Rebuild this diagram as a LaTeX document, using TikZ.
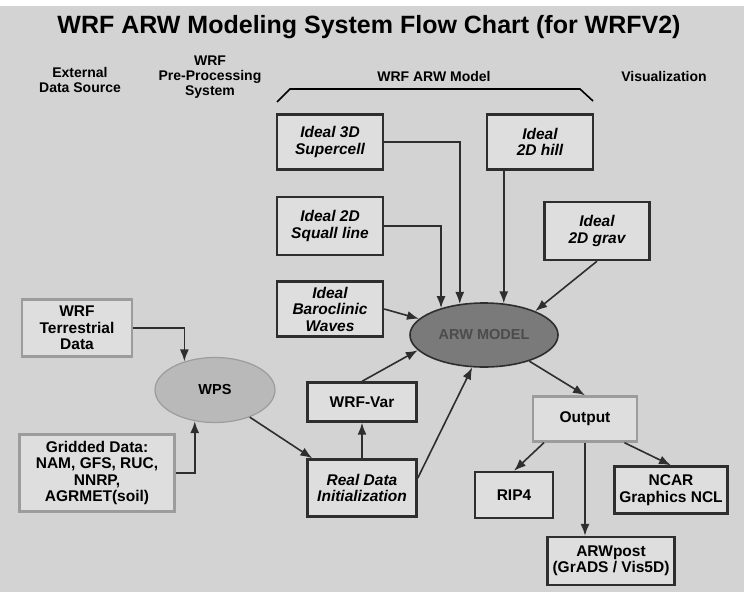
\documentclass[tikz,border=0pt]{standalone}
\usepackage{fontspec}
\setmainfont{Liberation Sans}
\usepackage{xcolor}
\usetikzlibrary{shapes.geometric,arrows.meta}

\definecolor{page}{HTML}{D3D3D3}
\definecolor{boxfill}{HTML}{DEDEDE}
\definecolor{boxline}{HTML}{2E2E2E}
\definecolor{paleline}{HTML}{9C9C9C}
\definecolor{arwfill}{HTML}{7A7A7A}
\definecolor{wpsfill}{HTML}{B9B9B9}

\begin{document}
\begin{tikzpicture}[x=1pt, y=-1pt,
    >={Latex[length=12pt,width=9pt]},
    box/.style={shape=rectangle, draw=boxline, line width=2.4pt, fill=boxfill, inner sep=1pt, align=center,
      font=\fontsize{15.5}{16.5}\selectfont\bfseries},
    ideal/.style={box, font=\fontsize{15.5}{16.5}\selectfont\bfseries\itshape},
    pale/.style={box, draw=paleline},
    oval/.style={shape=ellipse, inner sep=1pt, font=\fontsize{14.5}{15}\selectfont\bfseries},
    head/.style={align=center, font=\fontsize{14}{15}\selectfont\bfseries},
    arr/.style={->, line width=1.6pt, draw=boxline}]
    \fill[white] (0,0) rectangle (744,592);
    \fill[page] (0,6) rectangle (744,592);

    \node (title) at (369,33) [anchor=base, font=\fontsize{25}{27}\selectfont\bfseries] {WRF ARW Modeling System Flow Chart (for WRFV2)};
    \node (ext) at (80,80) [head] {External\\Data Source};
    \node (pre) at (210,77) [head] {WRF\\Pre-Processing\\System};
    \node (model) at (434,76) [head] {WRF ARW Model};
    \node (vis) at (664,76) [head] {Visualization};
    \draw[line width=1.6pt] (277,102) -- (290,89) -- (580,89) -- (593,101);

    \node (sup) at (330,142) [ideal, minimum width=106, minimum height=55] {Ideal 3D\\Supercell};
    \node (hill) at (540,142) [ideal, minimum width=106, minimum height=55] {Ideal\\2D hill};
    \node (sql) at (330,226) [ideal, minimum width=106, minimum height=58] {Ideal 2D\\Squall line};
    \node (grav) at (597,231) [ideal, minimum width=105, minimum height=58] {Ideal\\2D grav};
    \node (baro) at (330,309) [ideal, minimum width=106, minimum height=55] {Ideal\\Baroclinic\\Waves};
    \node (arw) at (484,335) [oval, draw=boxline, line width=1.6pt, fill=arwfill, text=black!70,
      minimum width=148, minimum height=64] {ARW MODEL};

    \node (terr) at (77,328) [pale, minimum width=110, minimum height=57] {WRF\\Terrestrial\\Data};
    \node (wps) at (215,390) [oval, draw=paleline, line width=1.2pt, fill=wpsfill,
      minimum width=120, minimum height=65] {WPS};
    \node (grid) at (97,473) [pale, minimum width=155, minimum height=77] {Gridded Data:\\NAM, GFS, RUC,\\NNRP,\\AGRMET(soil)};

    \node (var) at (362,402) [box, minimum width=109, minimum height=39] {WRF-Var};
    \node (real) at (362,488) [ideal, minimum width=109, minimum height=57] {Real Data\\Initialization};

    \node (out) at (585,419) [pale, minimum width=104, minimum height=45] {Output};
    \node (rip) at (514,495) [box, minimum width=78, minimum height=46] {RIP4};
    \node (ncar) at (671,490) [box, minimum width=113, minimum height=47] {NCAR\\Graphics NCL};
    \node (post) at (611,561) [box, minimum width=127, minimum height=48] {ARWpost\\(GrADS / Vis5D)};

    \draw[arr] (sup.east) -| (arw.128);
    \draw[arr] (sql.east) -| (arw.148);
    \draw[arr] (arw.58 |- hill.south) -- (arw.58);
    \draw[arr] (grav.south) -- (arw.25);
    \draw[arr] (baro.east) -- (arw.166);

    \draw[arr] (terr.east) -| (wps.137);
    \draw[arr] (grid.east) -| (wps.237);
    \draw[arr] (wps.-38) -- ([xshift=6pt]real.north west);
    \draw[arr] (real.north) -- (var.south);
    \draw[arr] (var.north) -- (arw.193);
    \draw[arr] (real.10) -- (arw.250);

    \draw[arr] (arw.-30) -- (out.north);
    \draw[arr] (out.210) -- (rip.north);
    \draw[arr] (out.-31) -- (ncar.north);
    \draw[arr] (out.south) -- (out.south |- post.north);
\end{tikzpicture}
\end{document}
